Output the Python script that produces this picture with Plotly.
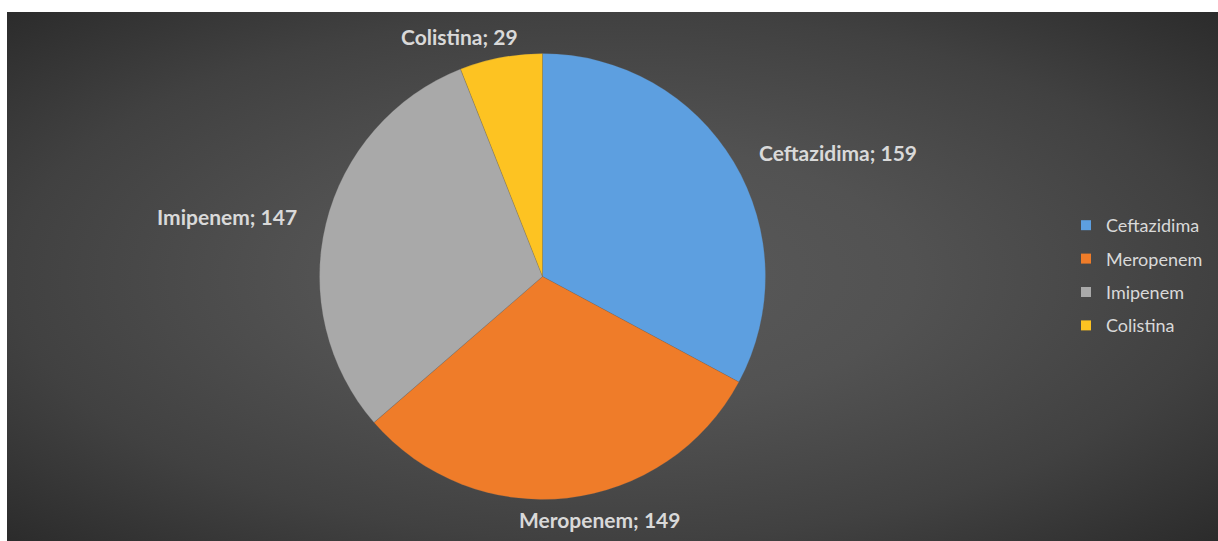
import plotly.graph_objects as go

# Antibiotic counts
antibiotics = ["Ceftazidima", "Meropenem", "Imipenem", "Colistina"]
counts = [159, 149, 147, 29]
slice_colors = ["#5d9fe0", "#ef7c29", "#a9a9a9", "#fdc322"]

# where each "name; count" label sits (pixel centre, from top-left)
label_xy = [(838, 152), (599, 519), (227, 217), (459, 37)]

W, H = 1218, 541
TEXT_COLOR = "#d9d9d9"
FONT = "Lato"

fig = go.Figure()

# dark backdrop with a soft radial gradient, drawn as a filled rectangle
fig.add_trace(go.Scatter(
    x=[-0.21, 1.21, 1.21, -0.21, -0.21],
    y=[-0.21, -0.21, 1.21, 1.21, -0.21],
    mode="lines",
    line=dict(width=0),
    fill="toself",
    fillgradient=dict(
        type="radial",
        colorscale=[[0, "#5a5a5a"], [0.35, "#525252"], [0.7, "#414141"], [1, "#2b2b2b"]],
    ),
    hoverinfo="skip",
    showlegend=False,
))

# pie slices, starting at 12 o'clock and running clockwise
fig.add_trace(go.Pie(
    labels=antibiotics,
    values=counts,
    sort=False,
    direction="clockwise",
    rotation=0,
    marker=dict(colors=slice_colors, line=dict(color="rgba(90,90,90,0.35)", width=0.6)),
    textinfo="none",
    domain=dict(x=[(542.5 - 223) / W, (542.5 + 223) / W],
                y=[(H - 276.5 - 223) / H, (H - 276.5 + 223) / H]),
    showlegend=False,
    hoverinfo="label+value",
))

# data labels outside the slices
for name, count, (px, py) in zip(antibiotics, counts, label_xy):
    fig.add_annotation(
        x=px / W, y=1 - py / H, xref="paper", yref="paper",
        text=f"{name}; {count}",
        showarrow=False,
        xanchor="center", yanchor="middle",
        font=dict(family=FONT, size=21, color=TEXT_COLOR, weight="bold"),
    )

# legend entries, one per antibiotic
for name, color in zip(antibiotics, slice_colors):
    fig.add_trace(go.Scatter(
        x=[None], y=[None],
        mode="markers",
        marker=dict(symbol="square", size=10, color=color),
        name=name,
        legendgroup=name,
        showlegend=True,
    ))

fig.update_layout(
    width=W,
    height=H,
    margin=dict(l=0, r=0, t=0, b=0),
    paper_bgcolor="white",
    plot_bgcolor="rgba(0,0,0,0)",
    xaxis=dict(domain=[7 / W, 1], range=[0, 1], visible=False, fixedrange=True),
    yaxis=dict(domain=[0, 1 - 12 / H], range=[0, 1], visible=False, fixedrange=True),
    legend=dict(
        x=(1106 - 40) / W,
        xanchor="left",
        y=1 - 207 / H,
        yanchor="top",
        font=dict(family=FONT, size=18, color=TEXT_COLOR),
        tracegroupgap=7,
        bgcolor="rgba(0,0,0,0)",
        itemclick=False,
    ),
    showlegend=True,
)

fig.write_html("out.html")
